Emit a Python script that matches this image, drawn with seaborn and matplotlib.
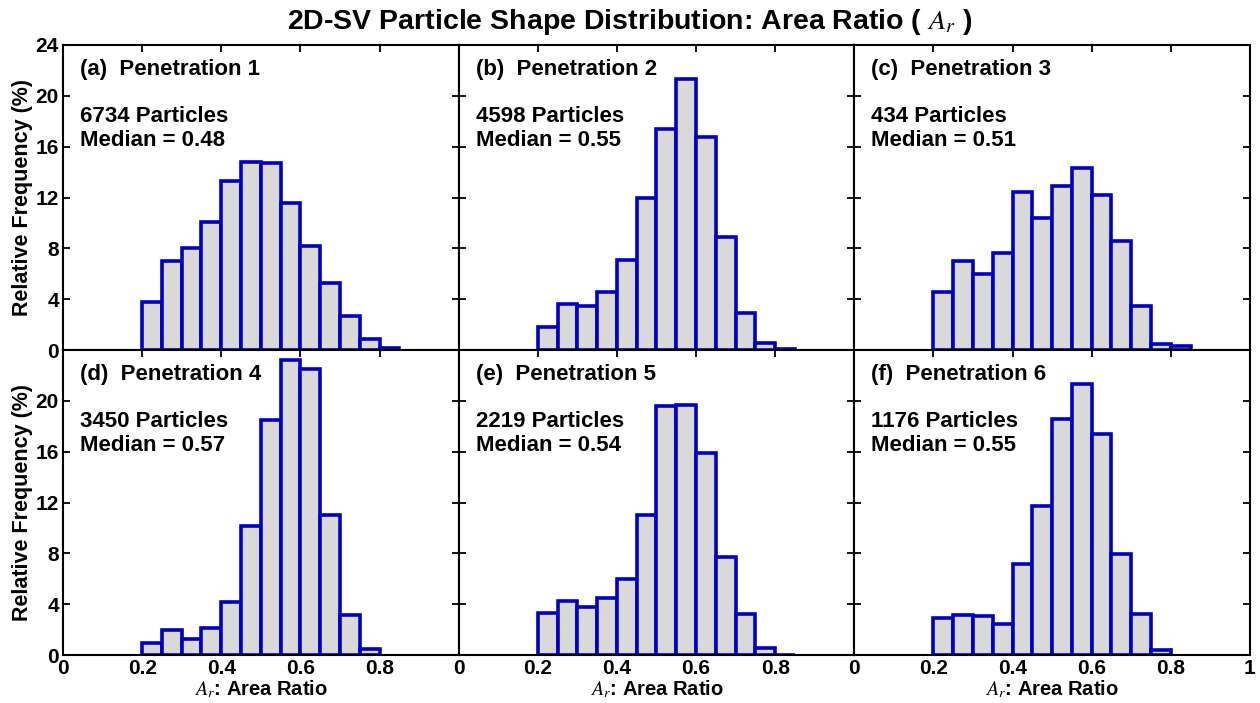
import numpy as np
import pandas as pd
import matplotlib
matplotlib.use("Agg")
import matplotlib.pyplot as plt
import seaborn as sns

sns.set_theme(style="ticks")
plt.rcParams['font.family'] = ['Liberation Sans', 'DejaVu Sans']
plt.rcParams['mathtext.fontset'] = 'stix'
for key in ['text.color', 'axes.labelcolor', 'xtick.color', 'ytick.color']:
    plt.rcParams[key] = 'black'

# Relative frequency (%) per 0.05-wide bin, starting at Ar = 0.2
bin_start = 0.2
bin_width = 0.05
pen1 = [3.8, 7.0, 8.0, 10.1, 13.3, 14.8, 14.7, 11.6, 8.2, 5.3, 2.7, 0.9, 0.18]
pen2 = [1.8, 3.6, 3.45, 4.6, 7.05, 12.0, 17.4, 21.3, 16.8, 8.9, 2.9, 0.55, 0.08]
pen3 = [4.6, 7.0, 6.0, 7.6, 12.4, 10.4, 12.9, 14.3, 12.2, 8.55, 3.5, 0.5, 0.3]
pen4 = [0.95, 2.0, 1.3, 2.1, 4.2, 10.2, 18.5, 23.2, 22.5, 11.0, 3.2, 0.5]
pen5 = [3.3, 4.25, 3.8, 4.5, 6.0, 11.0, 19.6, 19.7, 15.9, 7.75, 3.25, 0.55, 0.05]
pen6 = [2.9, 3.15, 3.05, 2.45, 7.2, 11.7, 18.6, 21.3, 17.4, 7.95, 3.25, 0.42]

panels = [
    ('(a)  Penetration 1', 6734, 0.48, pen1),
    ('(b)  Penetration 2', 4598, 0.55, pen2),
    ('(c)  Penetration 3', 434, 0.51, pen3),
    ('(d)  Penetration 4', 3450, 0.57, pen4),
    ('(e)  Penetration 5', 2219, 0.54, pen5),
    ('(f)  Penetration 6', 1176, 0.55, pen6),
]

x_ticks = [0, 0.2, 0.4, 0.6, 0.8, 1]
x_ticklabels = ['0', '0.2', '0.4', '0.6', '0.8', '1']
y_ticks = [0, 4, 8, 12, 16, 20, 24]

fig, axes = plt.subplots(2, 3, figsize=(12.6, 7.03), dpi=100)
fig.subplots_adjust(left=0.05, right=0.992, top=0.936, bottom=0.068,
                    wspace=0, hspace=0)

for i, (ax, (name, n, med, vals)) in enumerate(zip(axes.flat, panels)):
    edges = bin_start + bin_width * np.arange(len(vals) + 1)
    df = pd.DataFrame({'ar': (edges[:-1] + edges[1:]) / 2, 'freq': vals})
    sns.histplot(data=df, x='ar', weights='freq', bins=list(edges), ax=ax,
                 color='#d9d9d9', facecolor='#d9d9d9', edgecolor='#0000be',
                 linewidth=2.6, alpha=1)
    ax.set_xlim(0, 1)
    ax.set_ylim(0, 24)
    ax.set_xticks(x_ticks)
    ax.set_yticks(y_ticks)
    ax.tick_params(direction='in', top=True, right=True, length=5, width=1.3,
                   pad=3)
    for sp in ax.spines.values():
        sp.set_linewidth(1.5)
        sp.set_color('black')

    row, col = divmod(i, 3)
    if row == 0:
        ax.set_xticklabels([])
        ax.set_xlabel('')
    else:
        labels = list(x_ticklabels)
        if col < 2:
            labels[-1] = ''
        ax.set_xticklabels(labels, fontweight='bold', fontsize=15)
        ax.set_xlabel('$A_r$: Area Ratio', fontsize=14.5, fontweight='bold',
                      labelpad=0)
    if col == 0:
        ylabels = [str(t) for t in y_ticks]
        if row == 1:
            ylabels[-1] = ''
        ax.set_yticklabels(ylabels, fontweight='bold', fontsize=15)
        ax.set_ylabel('Relative Frequency (%)', fontsize=15.5,
                      fontweight='bold', labelpad=2)
    else:
        ax.set_yticklabels([])
        ax.set_ylabel('')

    ax.text(0.043, 0.92, name, transform=ax.transAxes, fontsize=16,
            fontweight='bold', va='center', ha='left')
    ax.text(0.043, 0.765, f'{n} Particles', transform=ax.transAxes,
            fontsize=16, fontweight='bold', va='center', ha='left')
    ax.text(0.043, 0.686, f'Median = {med:.2f}', transform=ax.transAxes,
            fontsize=16, fontweight='bold', va='center', ha='left')

fig.suptitle('2D-SV Particle Shape Distribution: Area Ratio ( $A_r$ )',
             fontsize=20.5, fontweight='bold', y=0.968, va='center')

plt.savefig('out.png', dpi=100)
plt.close()
